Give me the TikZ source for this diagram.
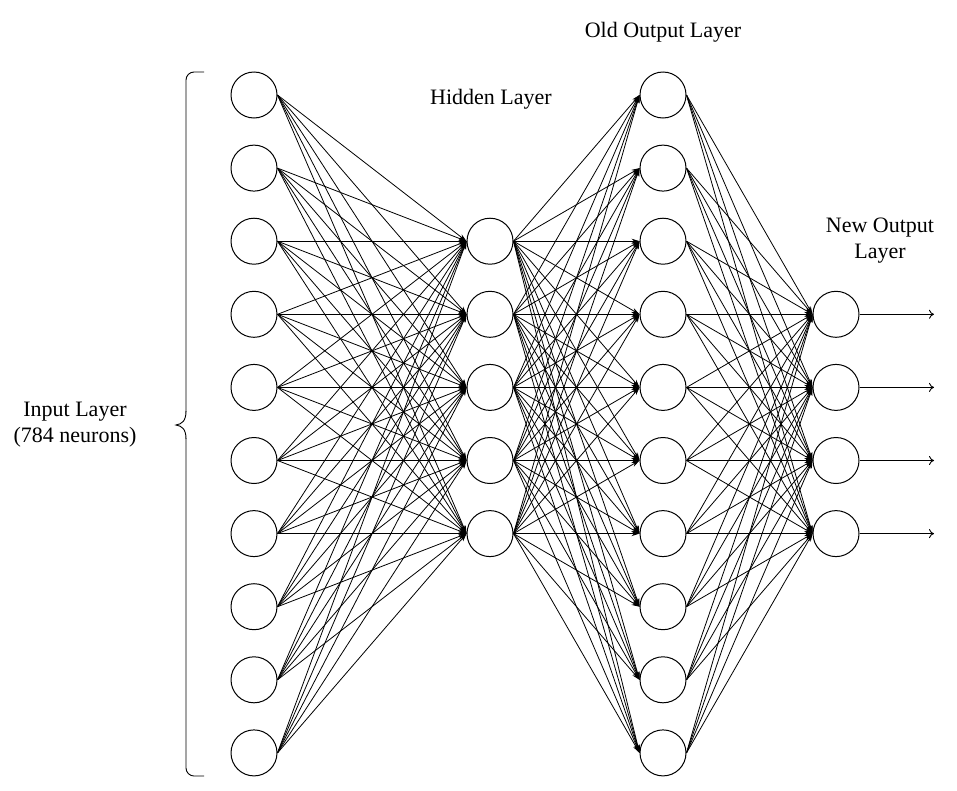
\documentclass[tikz,border=0pt]{standalone}
\usepackage{fontspec}
\setmainfont{Liberation Serif}
\usetikzlibrary{arrows.meta}
\begin{document}
\begin{tikzpicture}[x=1pt,y=-1pt,
  neuron/.style={circle,draw,line width=1pt,minimum size=46pt,inner sep=0pt},
  conn/.style={line width=0.8pt,-{Stealth[length=8pt,width=5pt]}},
  outarr/.style={line width=0.9pt,-{To[length=5pt,width=9pt]}},
  lbl/.style={font=\fontsize{22}{26}\selectfont,align=center}]
\useasboundingbox (0,0) rectangle (957,790);
\foreach \i in {1,...,10} {
  \node[neuron] (in\i) at (254,{95+(\i-1)*73.1}) {};
  \node[neuron] (old\i) at (663,{95+(\i-1)*73.1}) {};
}
\foreach \j in {1,...,5} {
  \node[neuron] (hid\j) at (490,{95+(\j+1)*73.1}) {};
}
\foreach \k in {1,...,4} {
  \node[neuron] (new\k) at (836,{95+(\k+2)*73.1}) {};
  \coordinate (end\k) at (934,{95+(\k+2)*73.1});
  \draw[outarr] (new\k.east) -- (end\k);
}
\foreach \i in {1,...,10} {
  \foreach \j in {1,...,5} {
    \draw[conn] (in\i.east) -- (hid\j.west);
    \draw[conn] (hid\j.east) -- (old\i.west);
  }
  \foreach \k in {1,...,4} {
    \draw[conn] (old\i.east) -- (new\k.west);
  }
}
\coordinate (bt) at (204,72);
\coordinate (bb) at (204,776);
\draw[line width=0.9pt,rounded corners=8pt] (bt) -- (186,72) -- (186,412);
\draw[line width=0.9pt] (186,411) .. controls (186,421) and (182,424) .. (176,425)
  .. controls (182,426) and (186,429) .. (186,439);
\draw[line width=0.9pt,rounded corners=8pt] (186,438) -- (186,776) -- (bb);
\node[lbl] (inl) at (75,425) {Input Layer\\(784 neurons)};
\node[lbl] (hidl) at (491,99) {Hidden Layer};
\node[lbl] (oldl) at (663,32) {Old Output Layer};
\node[lbl] (newl) at (880,241) {New Output\\Layer};
\end{tikzpicture}
\end{document}
